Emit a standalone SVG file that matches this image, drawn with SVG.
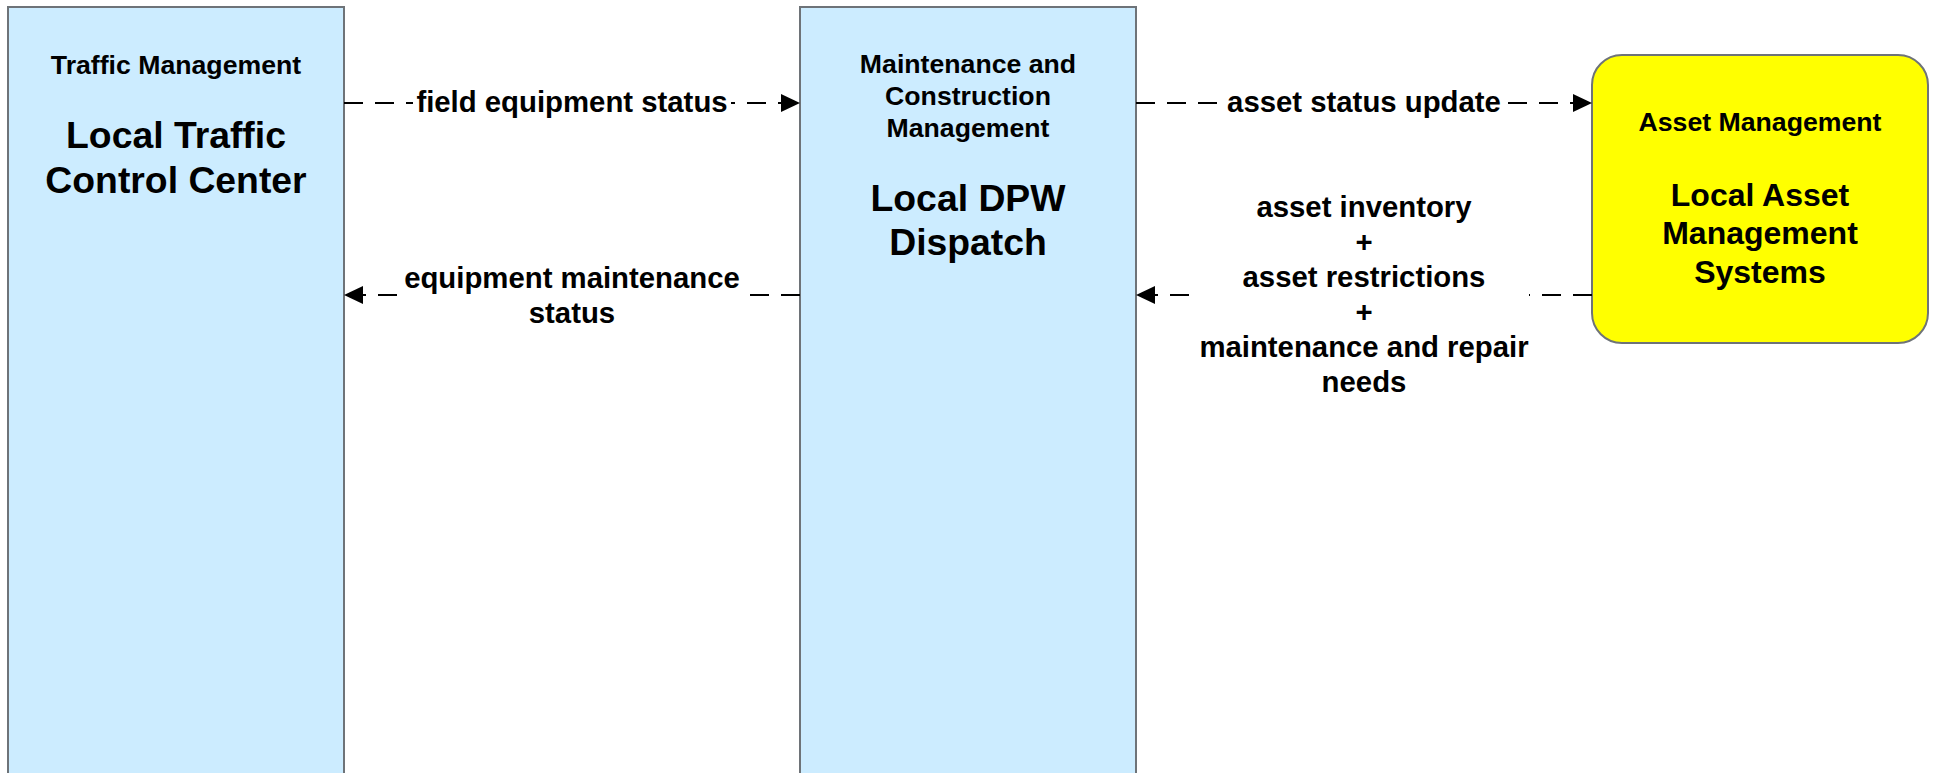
<svg xmlns="http://www.w3.org/2000/svg" width="1937" height="773" viewBox="0 0 1937 773">
<style>
.box{fill:#CCECFF;stroke:#6E7378;stroke-width:2}
.ybox{fill:#FFFF00;stroke:#6E7378;stroke-width:2}
text{font-family:"Liberation Sans",Arial,sans-serif;font-weight:bold;fill:#000;text-anchor:middle}
.sm{font-size:26.67px}
.lg{font-size:37.33px}
.md{font-size:32px}
.el{font-size:29.33px}
.ln{fill:none;stroke:#000;stroke-width:2.2;stroke-dasharray:19 12}
.bg{fill:#FFFFFF}
</style>
<defs>
<marker id="arr" markerUnits="userSpaceOnUse" viewBox="0 0 19 18" refX="0" refY="9" markerWidth="19" markerHeight="18" orient="auto">
<path d="M0,0 L19,9 L0,18 z" fill="#000"/>
</marker>
</defs>
<g id="node-traffic">
<rect class="box" x="8" y="7" width="336" height="800"/>
<text class="sm" x="176" y="74">Traffic Management</text>
<text class="lg" x="176" y="148">Local Traffic</text>
<text class="lg" x="176" y="193">Control Center</text>
</g>
<g id="node-dpw">
<rect class="box" x="800" y="7" width="336" height="800"/>
<text class="sm" x="968" y="73">Maintenance and</text>
<text class="sm" x="968" y="105">Construction</text>
<text class="sm" x="968" y="137">Management</text>
<text class="lg" x="968" y="211">Local DPW</text>
<text class="lg" x="968" y="255">Dispatch</text>
</g>
<g id="node-asset">
<rect class="ybox" x="1592" y="55" width="336" height="288" rx="30" ry="30"/>
<text class="sm" x="1760" y="131">Asset Management</text>
<text class="md" x="1760" y="206">Local Asset</text>
<text class="md" x="1760" y="244">Management</text>
<text class="md" x="1760" y="283">Systems</text>
</g>
<g id="connectors">
<path class="ln" d="M344,103 L781,103" marker-end="url(#arr)"/>
<rect class="bg" x="413" y="86" width="318" height="34"/>
<text class="el" x="572" y="112">field equipment status</text>

<path class="ln" d="M800,295 L363,295" marker-end="url(#arr)"/>
<rect class="bg" x="403" y="265" width="337" height="66"/>
<text class="el" x="572" y="288">equipment maintenance</text>
<text class="el" x="572" y="323">status</text>

<path class="ln" d="M1136,103 L1573,103" marker-end="url(#arr)"/>
<rect class="bg" x="1225" y="86" width="275" height="34"/>
<text class="el" x="1364" y="112">asset status update</text>

<path class="ln" d="M1592,295 L1155,295" marker-end="url(#arr)"/>
<rect class="bg" x="1198" y="190" width="331" height="212"/>
<text class="el" x="1364" y="217">asset inventory</text>
<text class="el" x="1364" y="252">+</text>
<text class="el" x="1364" y="287">asset restrictions</text>
<text class="el" x="1364" y="322">+</text>
<text class="el" x="1364" y="357">maintenance and repair</text>
<text class="el" x="1364" y="392">needs</text>
</g>
</svg>
